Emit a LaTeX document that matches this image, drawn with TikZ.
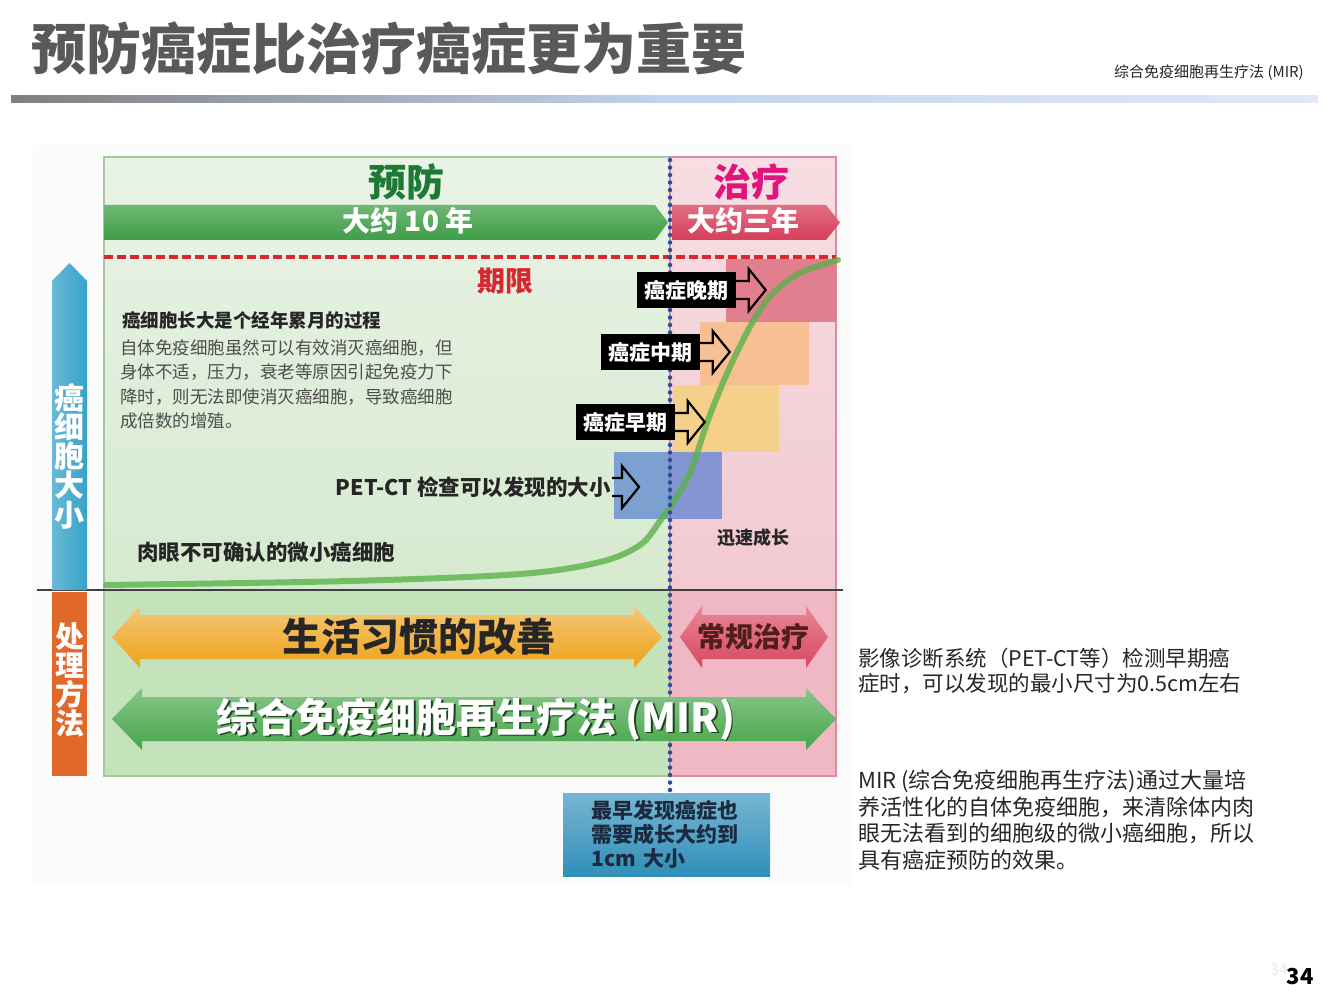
\documentclass[tikz,border=0pt]{standalone}
\usepackage{fontspec}
\setmainfont{Noto Sans CJK SC}
\usepackage{tikz}
\usetikzlibrary{arrows,shapes,positioning}

\definecolor{titlegray}{HTML}{595959}
\definecolor{bargray}{HTML}{7F7F7F}
\definecolor{barblue}{HTML}{C3D3EE}
\definecolor{photobg}{HTML}{FAFBFA}
\definecolor{greentop}{HTML}{E9F3E6}
\definecolor{greenmid}{HTML}{D6EACF}
\definecolor{greenlow}{HTML}{C5E3BB}
\definecolor{pinktop}{HTML}{F6DEE3}
\definecolor{pinkmid}{HTML}{F2C9D2}
\definecolor{pinklow}{HTML}{F0B7C4}
\definecolor{greenline}{HTML}{A4C99C}
\definecolor{pinkline}{HTML}{DC8A9C}
\definecolor{prevgreen}{HTML}{1D7A35}
\definecolor{curemag}{HTML}{E0147C}
\definecolor{bandgreen}{HTML}{3F9E47}
\definecolor{bandpink}{HTML}{D63F5A}
\definecolor{limitred}{HTML}{D7282F}
\definecolor{latefill}{HTML}{E27F8E}
\definecolor{midfill}{HTML}{F6BF94}
\definecolor{earlyfill}{HTML}{F5D08B}
\definecolor{petblue}{HTML}{4A78CF}
\definecolor{curvegreen}{HTML}{5CB24A}
\definecolor{dotblue}{HTML}{2B4C9C}
\definecolor{darktext}{HTML}{262626}
\definecolor{paragray}{HTML}{4D4D4D}
\definecolor{axisgray}{HTML}{404040}
\definecolor{sizeblue}{HTML}{37A2C9}
\definecolor{methodorange}{HTML}{E2682A}
\definecolor{habityellow}{HTML}{EEA21A}
\definecolor{carepink}{HTML}{D9475F}
\definecolor{mirgreen}{HTML}{47A64B}
\definecolor{noteblue}{HTML}{2F8FB9}
\definecolor{notetext}{HTML}{1C2A40}

\newcommand{\fsz}[1]{\fontsize{#1}{#1}\selectfont}

\tikzset{
  stagebox/.style={fill=black, text=white, font=\fsz{21}\bfseries, minimum width=99pt, minimum height=36pt, inner sep=0pt},
  hollow/.style={draw=black, line width=2.2pt, line join=miter},
  plain/.style={inner sep=0pt, text=darktext}
}

\begin{document}
\begin{tikzpicture}[x=1pt, y=-1pt]
\useasboundingbox (0,0) rectangle (1333,1000);
\fill [white] (0,0) rectangle (1333,1000);

% title
\node [anchor=west, plain, text=titlegray, font=\fsz{55}\bfseries] (title) at (31,48) {预防癌症比治疗癌症更为重要};
\node [anchor=east, plain, font=\fsz{15}] (subtitle) at (1304,73) {综合免疫细胞再生疗法 (MIR)};
\shade [left color=bargray, right color=barblue!50!white, middle color=barblue] (11,96) rectangle (1318,103);

\fill [photobg] (33,145) rectangle (852,884);

% panels
\shade [top color=greentop, bottom color=greenmid] (104,157) rectangle (670,590);
\fill [greenlow] (104,590) rectangle (670,776);
\shade [top color=pinktop, bottom color=pinkmid] (670,157) rectangle (836,590);
\fill [pinklow] (670,590) rectangle (836,776);
\draw [greenline, line width=1.5pt] (104,157) rectangle (670,776);
\draw [pinkline, line width=1.5pt] (670,157) rectangle (836,776);

% header
\node [plain, text=prevgreen, font=\fsz{38}\bfseries] (prevent) at (406,182) {预防};
\node [plain, text=curemag, font=\fsz{38}\bfseries] (cure) at (751,182) {治疗};
\shade [top color=bandgreen!75!white, bottom color=bandgreen] (104,205) -- (655,205) -- (668,222.5) -- (655,240) -- (104,240) -- cycle;
\shade [top color=bandpink!75!white, bottom color=bandpink] (672,205) -- (826,205) -- (840,222.5) -- (826,240) -- (672,240) -- cycle;
\node [plain, text=white, font=\fsz{28}\bfseries] (tenyears) at (408,221) {大约 10 年};
\node [plain, text=white, font=\fsz{28}\bfseries] (threeyears) at (743,221) {大约三年};

\draw [limitred, line width=4pt, dash pattern=on 9pt off 4pt] (104,257) -- (836,257);
\node [plain, text=limitred, font=\fsz{28}\bfseries] (limit) at (505,281) {期限};

% stage fields
\fill [latefill] (726,259) rectangle (836,322);
\fill [midfill] (700,322) rectangle (809,385);
\fill [earlyfill] (673,385) rectangle (779,452);
\fill [petblue, opacity=0.65] (614,452) rectangle (722,519);

\draw [curvegreen, opacity=0.8, line width=6pt, line cap=round] plot [smooth, tension=0.55] coordinates {(106,585) (350,581) (520,574) (600,562) (640,545) (660,521) (678,495) (692,468) (707,423) (722,385) (737,352) (755,318) (773,293) (800,273) (838,260)};

\draw [dotblue, line width=4.5pt, line cap=round, dash pattern=on 0pt off 7.5pt] (670,160) -- (670,796);

\node [stagebox] (late) at (686,290) {癌症晚期};
\node [stagebox] (mid) at (650,352) {癌症中期};
\node [stagebox] (early) at (625,422) {癌症早期};
\node [anchor=east, plain, font=\fsz{21.5}\bfseries] (pet) at (611,487) {PET-CT 检查可以发现的大小};

\draw [hollow] (late.east) ++(0,-9) -- ++(13,0) -- ++(0,-12) -- ++(17,21) -- ++(-17,21) -- ++(0,-12) -- ++(-13,0);
\draw [hollow] (mid.east) ++(0,-9) -- ++(13,0) -- ++(0,-12) -- ++(17,21) -- ++(-17,21) -- ++(0,-12) -- ++(-13,0);
\draw [hollow] (early.east) ++(0,-9) -- ++(13,0) -- ++(0,-12) -- ++(17,21) -- ++(-17,21) -- ++(0,-12) -- ++(-13,0);
\draw [hollow] (pet.east) ++(1,-9) -- ++(10,0) -- ++(0,-12) -- ++(17,21) -- ++(-17,21) -- ++(0,-12) -- ++(-10,0);

% texts in the green field
\node [anchor=west, plain, font=\fsz{18.5}\bfseries] (growhead) at (122,320) {癌细胞长大是个经年累月的过程};
\foreach \t [count=\i] in {自体免疫细胞虽然可以有效消灭癌细胞，但, 身体不适，压力，衰老等原因引起免疫力下, 降时，则无法即使消灭癌细胞，导致癌细胞, 成倍数的增殖。}
  \node [anchor=west, plain, text=paragray, font=\fsz{17.5}] (grow\i) at (120,{348+24.4*(\i-1)}) {\t};
\node [plain, font=\fsz{21.5}\bfseries] (tiny) at (266,552) {肉眼不可确认的微小癌细胞};
\node [plain, font=\fsz{18}\bfseries] (rapid) at (753,538) {迅速成长};

\draw [axisgray, line width=2pt] (37,590) -- (843,590);

% left axis
\shade [left color=sizeblue!75!white, right color=sizeblue] (52,590) -- (52,281) -- (69.5,263) -- (87,281) -- (87,590) -- cycle;
\fill [methodorange] (52,592) rectangle (87,776);
\node [plain, text=white, align=center, font=\fontsize{30}{29.3}\selectfont\bfseries] (sizelabel) at (69.5,456) {癌\\细\\胞\\大\\小};
\node [plain, text=white, align=center, font=\fontsize{29}{29}\selectfont\bfseries] (methodlabel) at (69.5,680) {处\\理\\方\\法};

% methods
\shade [top color=habityellow!60!white, bottom color=habityellow] (112,637) -- (140,606) -- (140,615) -- (634,615) -- (634,606) -- (662,637) -- (634,668) -- (634,659) -- (140,659) -- (140,668) -- cycle;
\node [plain, font=\fsz{39}\bfseries] (habit) at (419,637) {生活习惯的改善};
\shade [top color=carepink!65!white, bottom color=carepink] (680,637) -- (702,606) -- (702,615) -- (806,615) -- (806,606) -- (828,637) -- (806,668) -- (806,659) -- (702,659) -- (702,668) -- cycle;
\node [plain, text=darktext!80!red, font=\fsz{28}\bfseries] (usual) at (753,637) {常规治疗};
\shade [top color=mirgreen!65!white, bottom color=mirgreen] (112,719) -- (142,688) -- (142,697) -- (806,697) -- (806,688) -- (836,719) -- (806,750) -- (806,741) -- (142,741) -- (142,750) -- cycle;
\node [plain, text=mirgreen!40!black, font=\fsz{40}\bfseries] (mirshade) at (477.5,720.5) {综合免疫细胞再生疗法 (MIR)};
\node [plain, text=white, font=\fsz{40}\bfseries] (mir) at (476,719) {综合免疫细胞再生疗法 (MIR)};

% note box
\node [top color=noteblue!65!white, bottom color=noteblue, minimum width=207pt, minimum height=83pt, text width=150pt, align=left, inner sep=0pt, text=notetext, font=\fontsize{21}{24}\selectfont\bfseries] (note) at (666.5,834.5) {最早发现癌症也\\需要成长大约到\\1cm 大小};

% right column
\foreach \t [count=\i] in {影像诊断系统（PET-CT等）检测早期癌, 症时，可以发现的最小尺寸为0.5cm左右}
  \node [anchor=west, plain, font=\fsz{21.5}] (petnote\i) at (858,{658+26*(\i-1)}) {\t};
\foreach \t [count=\i] in {MIR (综合免疫细胞再生疗法)通过大量培, 养活性化的自体免疫细胞，来清除体内肉, 眼无法看到的细胞级的微小癌细胞，所以, 具有癌症预防的效果。}
  \node [anchor=west, plain, font=\fsz{22}] (mirnote\i) at (858,{781+26.3*(\i-1)}) {\t};

\node [plain, text=black!8, font=\fsz{16}] (ghost) at (1279,970) {34};
\node [plain, text=black, font=\fsz{22}\bfseries] (page) at (1300,977) {34};
\end{tikzpicture}
\end{document}
